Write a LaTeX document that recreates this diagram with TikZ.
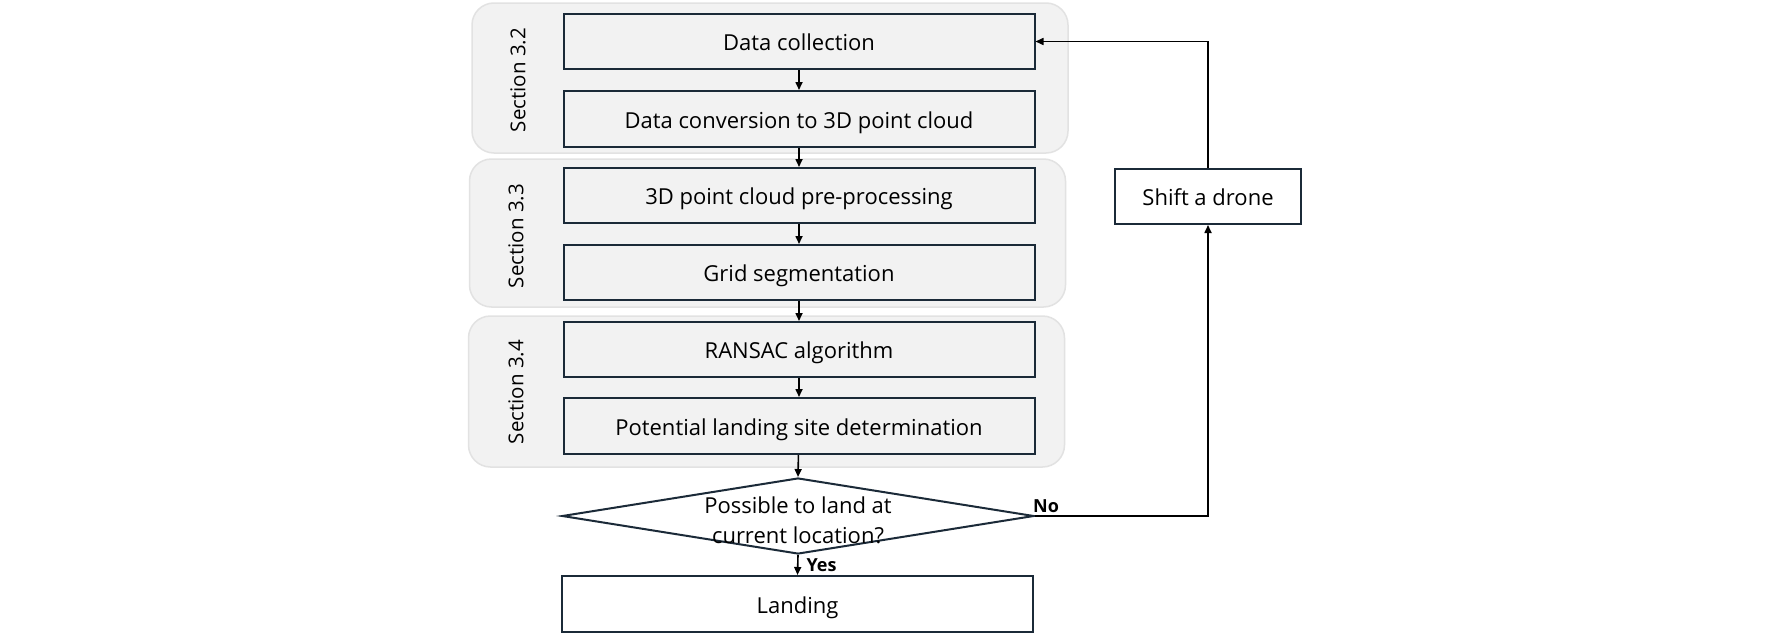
\documentclass[tikz,border=0pt]{standalone}
\usepackage{fontspec}
\setmainfont{Open Sans}
\usetikzlibrary{shapes.geometric,arrows.meta}
\definecolor{boxline}{HTML}{1B2A38}
\definecolor{bgfill}{HTML}{F2F2F2}
\definecolor{bgline}{HTML}{E2E2E2}
\begin{document}
\begin{tikzpicture}[x=1pt,y=-1pt,
  every node/.style={font=\fontsize{22}{28}\selectfont},
  sectbg/.style={draw=bgline,line width=1.5pt,fill=bgfill,rounded corners=22pt,minimum width=596pt,minimum height=150pt,inner sep=0pt},
  stepbox/.style={draw=boxline,line width=2pt,fill=bgfill,minimum width=471pt,minimum height=55pt,inner sep=0pt,text height=19pt,text depth=1pt},
  whitebox/.style={draw=boxline,line width=2pt,fill=white,minimum width=471pt,minimum height=55pt,inner sep=0pt,text height=19pt,text depth=1pt},
  sectlabel/.style={rotate=90,inner sep=0pt,font=\fontsize{20.5}{24}\selectfont},
  arr/.style={draw=black,line width=1.6pt,-{Triangle[length=8pt,width=7pt]}},
  yn/.style={font=\bfseries\fontsize{18}{20}\selectfont,inner sep=0pt}
]
\useasboundingbox (0,0) rectangle (1772,637);
\fill[white] (0,0) rectangle (1772,637);
% section backgrounds
\node[sectbg] (bg32) at (770,78) {};
\node[sectbg,minimum height=148pt] (bg33) at (767.5,233) {};
\node[sectbg,minimum height=151pt] (bg34) at (766.5,391.5) {};
\node[sectlabel] (s32) at (518,80) {Section 3.2};
\node[sectlabel] (s33) at (516,236) {Section 3.3};
\node[sectlabel] (s34) at (516,392) {Section 3.4};
% steps
\node[stepbox] (dc) at (799,41.5) {Data collection};
\node[stepbox,minimum height=56pt] (conv) at (799,119) {Data conversion to 3D point cloud};
\node[stepbox] (pre) at (799,195.5) {3D point cloud pre-processing};
\node[stepbox] (grid) at (799,272.5) {Grid segmentation};
\node[stepbox] (ransac) at (799,349.5) {RANSAC algorithm};
\node[stepbox,minimum height=56pt] (pot) at (799,426) {Potential landing site determination};
\node[diamond,draw=boxline,line width=2pt,fill=white,minimum width=472pt,minimum height=76pt,inner sep=0pt,
  label={[align=center,font=\fontsize{22}{30}\selectfont,yshift=-4pt]center:Possible to land at\\current location?}] (dia) at (798,516) {};
\node[whitebox,minimum height=56pt] (land) at (797.5,604) {Landing};
\node[whitebox,minimum width=186pt] (shift) at (1208,196.5) {Shift a drone};
% connectors
\draw[arr] (dc) -- (conv);
\draw[arr] (conv) -- (pre);
\draw[arr] (pre) -- (grid);
\draw[arr] (grid) -- (ransac);
\draw[arr] (ransac) -- (pot);
\draw[arr] (pot) -- (dia.north);
\draw[arr] (dia.south) -- (land.north) node[yn,midway,anchor=west,xshift=8pt] (yes) {Yes};
\draw[arr] (dia.east) -| (shift.south);
\node[yn,anchor=south west] (no) at ([xshift=-2pt,yshift=3pt]dia.east) {No};
\draw[arr] (shift.north) |- (dc.east);
\end{tikzpicture}
\end{document}
